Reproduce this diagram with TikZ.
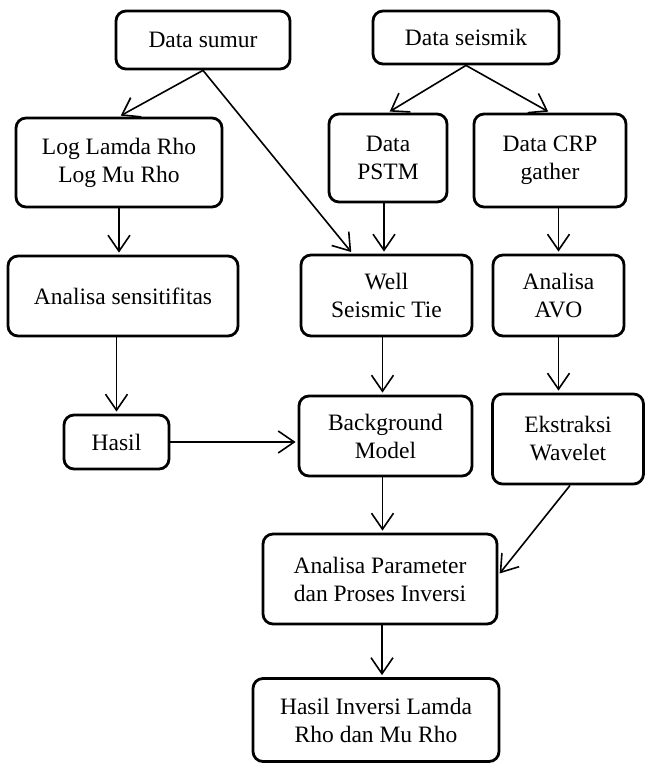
\documentclass[tikz,border=0pt]{standalone}
\usepackage{fontspec}
\setmainfont{Liberation Serif}
\usetikzlibrary{arrows.meta}
\begin{document}
\begin{tikzpicture}[x=1pt,y=-1pt,
  box/.style={draw, line width=2.8pt, rounded corners=10pt, align=center,
    inner sep=0pt, font=\fontsize{23.5}{28}\selectfont},
  flow/.style={line width=1.6pt, -{Straight Barb[length=16pt,width=22pt]}, shorten >=2pt}]
\useasboundingbox (0,0) rectangle (647,765);

% boxes
\node[box, minimum width=174pt, minimum height=58pt] (sumur) at (203,40) {Data sumur};
\node[box, minimum width=186pt, minimum height=53pt] (seis) at (466,37.5) {Data seismik};
\node[box, minimum width=206pt, minimum height=89pt] (log) at (119,162.5) {Log Lamda Rho\\Log Mu Rho};
\node[box, minimum width=118pt, minimum height=88pt] (pstm) at (388,158) {Data\\PSTM};
\node[box, minimum width=152pt, minimum height=93pt] (crp) at (550,160.5) {Data CRP\\gather};
\node[box, minimum width=230pt, minimum height=80pt] (sens) at (123,296) {Analisa sensitifitas};
\node[box, minimum width=171pt, minimum height=81pt] (wst) at (386.5,295.5) {Well\\Seismic Tie};
\node[box, minimum width=131pt, minimum height=81pt] (avo) at (558.5,295.5) {Analisa\\AVO};
\node[box, minimum width=105pt, minimum height=54pt] (hasil) at (116.5,442) {Hasil};
\node[box, minimum width=173pt, minimum height=80pt] (bg) at (385.5,436) {Background\\Model};
\node[box, minimum width=151pt, minimum height=90pt] (ekst) at (568,439) {Ekstraksi\\Wavelet};
\node[box, minimum width=234pt, minimum height=90pt] (param) at (380,579) {Analisa Parameter\\dan Proses Inversi};
\node[box, minimum width=246pt, minimum height=83pt] (inv) at (376,720) {Hasil Inversi Lamda\\Rho dan Mu Rho};

% connectors
\draw[flow] (sumur.south) -- (log.north);
\draw[flow] (sumur.south) -- ([xshift=-34pt]wst.north);
\draw[flow] (seis.south) -- (pstm.north);
\draw[flow] (seis.south) -- (crp.north);
\draw[flow] ([xshift=-4pt]pstm.south) -- ([xshift=-4pt]pstm.south |- wst.north);
\draw[flow] (avo.north |- crp.south) -- (avo.north);
\draw[flow] (log.south) -- (log.south |- sens.north);
\draw[flow] (hasil.north |- sens.south) -- (hasil.north);
\draw[flow] (hasil.east) -- (hasil.east -| bg.west);
\draw[flow] ([xshift=-4pt]wst.south) -- ([xshift=-4pt]wst.south |- bg.north);
\draw[flow] (avo.south) -- (avo.south |- ekst.north);
\draw[flow] ([xshift=-3pt]bg.south) -- ([xshift=-3pt]bg.south |- param.north);
\draw[flow] ([xshift=2pt]ekst.south) -- ([yshift=4pt]param.east);
\draw[flow] ([xshift=2pt]param.south) -- ([xshift=2pt]param.south |- inv.north);
\end{tikzpicture}
\end{document}
